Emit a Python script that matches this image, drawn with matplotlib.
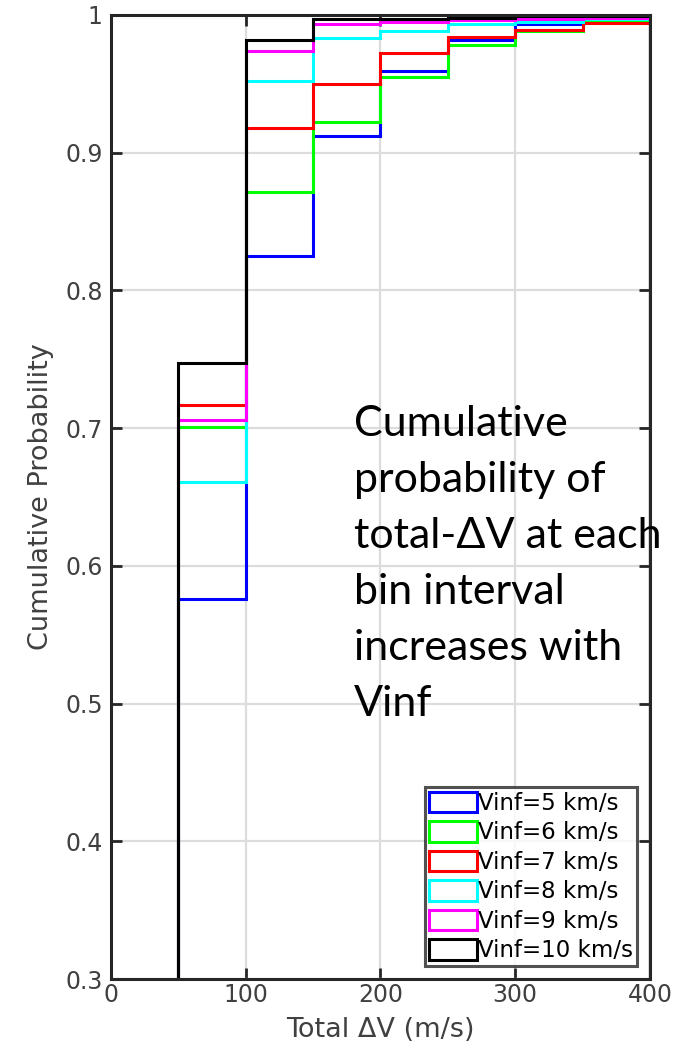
import numpy as np
import matplotlib.pyplot as plt
from matplotlib.patches import Patch

# bin edges (m/s) and cumulative probability per bin for each Vinf
edges = [50, 100, 150, 200, 250, 300, 350, 400]
vinf_labels = ['Vinf=5 km/s', 'Vinf=6 km/s', 'Vinf=7 km/s',
               'Vinf=8 km/s', 'Vinf=9 km/s', 'Vinf=10 km/s']
cdf_v5 = [0.576, 0.825, 0.912, 0.959, 0.982, 0.993, 0.996]
cdf_v6 = [0.701, 0.871, 0.922, 0.955, 0.978, 0.988, 0.995]
cdf_v7 = [0.717, 0.918, 0.950, 0.972, 0.984, 0.989, 0.994]
cdf_v8 = [0.661, 0.952, 0.983, 0.988, 0.993, 0.995, 0.997]
cdf_v9 = [0.706, 0.974, 0.993, 0.995, 0.996, 0.997, 0.998]
cdf_v10 = [0.747, 0.982, 0.997, 0.997, 0.998, 0.999, 0.999]
series = [cdf_v5, cdf_v6, cdf_v7, cdf_v8, cdf_v9, cdf_v10]
colors = ['#0000ff', '#00ff00', '#ff0000', '#00ffff', '#ff00ff', '#000000']

x_ticks = [0, 100, 200, 300, 400]
y_ticks = [0.3, 0.4, 0.5, 0.6, 0.7, 0.8, 0.9, 1.0]
y_tick_labels = ['0.3', '0.4', '0.5', '0.6', '0.7', '0.8', '0.9', '1']

axis_gray = '#262626'
text_gray = '#404040'

fig = plt.figure(figsize=(6.77, 10.55), dpi=100)
ax = fig.add_axes([0.164, 0.072, 0.796, 0.914])

for vals, c in zip(series, colors):
    ax.stairs(vals, edges, baseline=0, color=c, linewidth=2.2, zorder=3)

ax.set_xlim(0, 400)
ax.set_ylim(0.3, 1.0)
ax.set_xticks(x_ticks)
ax.set_yticks(y_ticks)
ax.set_yticklabels(y_tick_labels)
ax.grid(True, color='#dcdcdc', linewidth=1.6, zorder=0)
ax.set_axisbelow(True)
ax.tick_params(direction='in', length=8, width=2, top=True, right=True,
               labelsize=17, colors=axis_gray, labelcolor=text_gray, pad=3)
ax.tick_params(axis='y', pad=6)
for s in ax.spines.values():
    s.set_linewidth(2.2)
    s.set_color(axis_gray)
    s.set_zorder(4)

ax.set_xlabel('Total ΔV (m/s)', fontsize=19.5, color=text_gray, labelpad=7)
ax.set_ylabel('Cumulative Probability', fontsize=19.5, color=text_gray, labelpad=8)

handles = [Patch(facecolor='white', edgecolor=c, linewidth=2.2) for c in colors]
leg = ax.legend(handles, vinf_labels, loc='lower right', fontsize=16.5,
                frameon=True, fancybox=False, handlelength=2.1, handleheight=1.0,
                handletextpad=0.05, labelspacing=0.28, borderpad=0.18,
                borderaxespad=0.55)
leg.get_frame().set_edgecolor(axis_gray)
leg.get_frame().set_linewidth(2.2)
leg.set_zorder(5)

fig.text(0.523, 0.616,
         'Cumulative\nprobability of\ntotal-ΔV at each\nbin interval\nincreases with\nVinf',
         fontsize=31, family=['Lato', 'DejaVu Sans'], color='black',
         va='top', ha='left', linespacing=1.58)

fig.savefig('out.png', dpi=100)
